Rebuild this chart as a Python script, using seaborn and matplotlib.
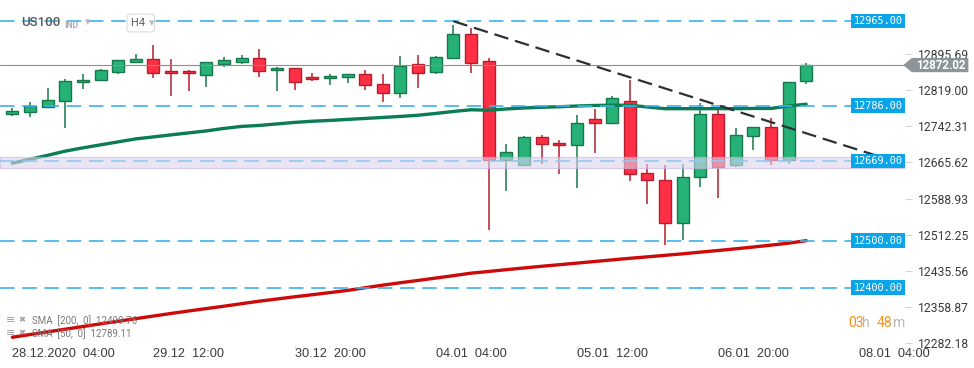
import numpy as np
import pandas as pd
import seaborn as sns
import matplotlib.pyplot as plt
import matplotlib.transforms as mtransforms
from matplotlib.patches import Polygon

# US100 H4 - candles
opens = [12767.8, 12772.0, 12782.6, 12795.3, 12835.4, 12840.9, 12857.8, 12879.0, 12884.1, 12858.7,
         12858.7, 12851.5, 12873.5, 12879.0, 12886.2, 12860.8, 12865.0, 12846.0, 12843.9, 12846.0,
         12852.4, 12831.2, 12812.2, 12873.5, 12856.6, 12886.2, 12936.9, 12879.8, 12670.6, 12660.0,
         12719.2, 12706.5, 12702.3, 12757.2, 12748.8, 12795.3, 12643.1, 12628.3, 12536.6, 12634.6,
         12767.8, 12660.0, 12721.3, 12740.3, 12670.6, 12837.6]
highs = [12780.5, 12793.8, 12823.4, 12842.4, 12853.0, 12863.6, 12882.5, 12895.3, 12914.3, 12884.7,
         12860.8, 12878.5, 12888.9, 12893.8, 12905.8, 12867.8, 12865.5, 12855.1, 12852.4, 12853.0,
         12860.8, 12853.0, 12891.0, 12893.2, 12890.4, 12956.6, 12950.2, 12886.2, 12705.0, 12721.9,
         12724.1, 12712.9, 12766.3, 12779.0, 12806.5, 12840.3, 12662.1, 12660.0, 12662.1, 12791.1,
         12778.4, 12738.2, 12741.0, 12759.4, 12836.0, 12876.2]
lows = [12764.8, 12762.7, 12781.5, 12739.5, 12821.9, 12840.0, 12853.6, 12876.9, 12845.2, 12807.1,
        12817.7, 12826.1, 12867.2, 12874.8, 12847.3, 12817.7, 12819.8, 12838.8, 12830.4, 12834.6,
        12819.8, 12794.4, 12802.9, 12824.0, 12853.6, 12885.5, 12855.7, 12521.8, 12604.2, 12659.5,
        12661.3, 12640.1, 12610.5, 12686.6, 12748.0, 12625.3, 12576.7, 12490.9, 12500.6, 12612.7,
        12589.4, 12655.8, 12691.7, 12660.0, 12662.1, 12831.2]
closes = [12774.1, 12784.7, 12797.4, 12837.6, 12839.7, 12860.8, 12881.9, 12884.1, 12855.7, 12854.5,
          12854.5, 12877.7, 12881.9, 12886.8, 12860.0, 12865.0, 12836.7, 12841.8, 12848.1, 12852.4,
          12829.1, 12812.2, 12869.3, 12854.5, 12888.3, 12936.9, 12875.6, 12670.6, 12687.5, 12719.2,
          12704.4, 12702.3, 12748.8, 12748.8, 12801.6, 12641.0, 12628.3, 12536.6, 12634.6, 12767.8,
          12655.8, 12723.4, 12740.3, 12670.6, 12835.4, 12872.02]

sma50 = [12664.2, 12672.3, 12680.7, 12689.6, 12696.6, 12702.9, 12709.3, 12715.6, 12719.8, 12724.1,
         12728.3, 12732.5, 12737.8, 12742.0, 12744.1, 12747.3, 12750.5, 12753.0, 12754.7, 12756.8,
         12758.9, 12761.0, 12763.2, 12765.7, 12769.5, 12773.7, 12777.3, 12776.3, 12779.0, 12781.1,
         12782.6, 12783.7, 12785.3, 12786.4, 12787.0, 12786.8, 12783.2, 12779.6, 12779.6, 12779.6,
         12779.6, 12779.6, 12780.1, 12780.1, 12785.3, 12789.11]
sma200 = [12295.0, 12300.7, 12306.4, 12312.1, 12317.8, 12323.5, 12329.0, 12334.5, 12340.0, 12345.5,
          12350.8, 12355.8, 12360.9, 12366.2, 12371.5, 12376.1, 12380.8, 12385.2, 12389.7, 12394.3,
          12400.0, 12405.5, 12410.6, 12415.5, 12420.5, 12425.6, 12430.9, 12434.5, 12438.3, 12441.9,
          12445.5, 12448.8, 12452.2, 12455.6, 12459.0, 12462.4, 12465.5, 12468.7, 12471.9, 12475.5,
          12478.9, 12482.5, 12486.3, 12490.3, 12494.5, 12499.76]

levels = [12965.00, 12786.00, 12500.00, 12400.00]
zone_level = 12669.00
zone_low, zone_high = 12654.3, 12677.6
last_price = 12872.02
trend_x = [25.0, 50.5]
trend_y = [12965.0, 12662.1]

price_ticks = [12282.18, 12358.87, 12435.56, 12512.25, 12588.93, 12665.62, 12742.31, 12819.00, 12895.69]
time_pos = [0, 8, 16, 24, 32, 40, 48]
time_labels = ['28.12.2020  04:00', '29.12  12:00', '30.12  20:00', '04.01  04:00',
               '05.01  12:00', '06.01  20:00', '08.01  04:00']

df = pd.DataFrame({'open': opens, 'high': highs, 'low': lows, 'close': closes,
                   'sma50': sma50, 'sma200': sma200})
df['i'] = np.arange(len(df))
up = df['close'] >= df['open']

sns.set_theme(style='white')
plt.rcParams['font.family'] = ['Roboto', 'DejaVu Sans']
plt.rcParams['lines.scale_dashes'] = False

fig = plt.figure(figsize=(9.74, 3.68), dpi=100)
ax = fig.add_axes([0, 23 / 368, 905 / 974, 345 / 368])
ax.set_facecolor('white')
for s in ax.spines.values():
    s.set_visible(False)

# candles
g_fill, g_edge = '#26b277', '#17784c'
r_fill, r_edge = '#ff3045', '#b31f2e'
wick_cols = np.where(up, g_edge, r_edge)
ax.vlines(df['i'], df['low'], df['high'], colors=wick_cols, lw=1.1, zorder=2)
body_lo = np.minimum(df['open'], df['close'])
body_h = np.maximum(np.abs(df['close'] - df['open']), 1.5)
ax.bar(df['i'], body_h, bottom=body_lo, width=0.68,
       color=np.where(up, g_fill, r_fill), edgecolor=wick_cols, linewidth=1.0, zorder=2)

# moving averages
sns.lineplot(data=df, x='i', y='sma50', ax=ax, color='#0b7c54', lw=2.4, zorder=3)
sns.lineplot(data=df, x='i', y='sma200', ax=ax, color='#cc0a0a', lw=2.4, zorder=3)

# support / resistance
ax.axhspan(zone_low, zone_high, facecolor='#ddd5ef', edgecolor='#c2b3e0', lw=0.9, alpha=0.6, zorder=4)
for lv in levels:
    ax.axhline(lv, color='#3db2ea', lw=1.2, dashes=(10.5, 5.5), zorder=5)
ax.axhline(zone_level, color='#92c9f0', lw=1.2, dashes=(10.5, 5.5), zorder=5)
ax.axhline(last_price, color='#8a8f93', lw=0.8, zorder=5)
ax.plot(trend_x, trend_y, color='#2b3034', lw=1.6, dashes=(10.5, 5), zorder=6)

ax.set_xlim(-0.70, 50.6)
ax.set_ylim(12278.6, 13010.0)
ax.set_xlabel('')
ax.set_ylabel('')

# axes ticks
ax.yaxis.tick_right()
ax.set_yticks(price_ticks)
ax.set_yticklabels([f'{v:.2f}' for v in price_ticks])
ax.tick_params(axis='y', right=True, length=5, width=0.8, color='#d5d5d5', labelsize=8.7,
               labelcolor='#3a3a3a', pad=4)
ax.set_xticks(time_pos)
ax.set_xticklabels(time_labels)
for t in ax.get_xticklabels():
    t.set_ha('left')
    t.set_family(['Liberation Sans Narrow', 'Liberation Sans', 'DejaVu Sans'])
ax.tick_params(axis='x', bottom=True, length=3, width=0.6, color='#e3e3e3', labelsize=9.2,
               labelcolor='#3a3a3a', pad=-1)

# level tags on the right
ytr = mtransforms.blended_transform_factory(ax.transAxes, ax.transData)
for lv in levels + [zone_level]:
    ax.text(0.9975, lv, f'{lv:.2f}', transform=ytr, ha='right', va='center', color='white',
            fontsize=7.4, family='DejaVu Sans Mono', zorder=7,
            bbox=dict(boxstyle='square,pad=0.22', fc='#0aa4e8', ec='none'))

tag = Polygon([(0.998, last_price), (1.0075, last_price + 15), (1.0700, last_price + 15),
               (1.0700, last_price - 15), (1.0075, last_price - 15)],
              closed=True, transform=ytr, fc='#8b959a', ec='none', clip_on=False, zorder=8)
ax.add_patch(tag)
ax.text(1.0395, last_price - 1, f'{last_price:.2f}', transform=ytr, ha='center', va='center',
        color='white', fontsize=8.3, fontweight='bold', clip_on=False, zorder=9)

# header
fig.text(21 / 974, 1 - 23 / 368, 'US100', fontsize=9.5, fontweight='medium', color='#555a5e', va='center')
fig.text(64 / 974, 1 - 25 / 368, 'IND', fontsize=6.3, fontweight='bold', color='#a9adb0', va='center')
fig.text(85 / 974, 1 - 22 / 368, '▾', fontsize=8, color='#b5b9bc', va='center', family='DejaVu Sans')
fig.text(131 / 974, 1 - 23 / 368, 'H4  ', fontsize=8, color='#5a5f63', va='center',
         bbox=dict(boxstyle='round,pad=0.35,rounding_size=0.3', fc='white', ec='#dcdcdc', lw=0.8))
fig.text(149 / 974, 1 - 23 / 368, '▾', fontsize=8, color='#b5b9bc', va='center', family='DejaVu Sans')

# indicator legend
fig.text(6 / 974, 1 - 320 / 368, '≡', fontsize=8, color='#a0a0a0', va='center', family='DejaVu Sans')
fig.text(18 / 974, 1 - 320 / 368, '✖', fontsize=6, color='#a0a0a0', va='center', family='DejaVu Sans')
fig.text(32 / 974, 1 - 321 / 368, 'SMA  [200,  0]  12499.76', fontsize=7, color='#7a7a7a', va='center')
fig.text(6 / 974, 1 - 333 / 368, '≡', fontsize=8, color='#a0a0a0', va='center', family='DejaVu Sans')
fig.text(18 / 974, 1 - 333 / 368, '✖', fontsize=6, color='#a0a0a0', va='center', family='DejaVu Sans')
fig.text(32 / 974, 1 - 334 / 368, 'SMA  [50,  0]  12789.11', fontsize=7, color='#7a7a7a', va='center')

# countdown
cy = 1 - 323 / 368
fig.text(848 / 974, cy, '03', fontsize=10, color='#f7941d', va='center')
fig.text(862 / 974, cy, 'h', fontsize=10, color='#b8b8b8', va='center')
fig.text(877 / 974, cy, '48', fontsize=10, color='#f7941d', va='center')
fig.text(893 / 974, cy, 'm', fontsize=10, color='#b8b8b8', va='center')

fig.savefig('out.png', dpi=100)
